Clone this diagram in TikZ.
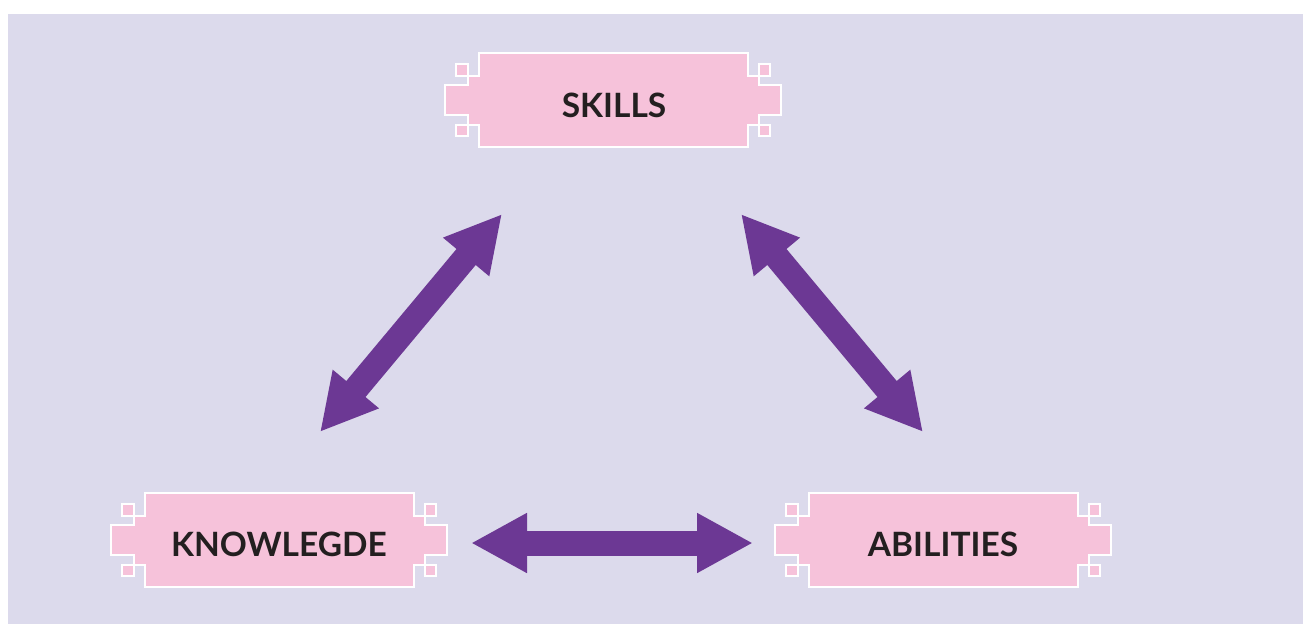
\documentclass[tikz,border=0pt]{standalone}
\usepackage{fontspec}
\setmainfont{Lato}
\usetikzlibrary{arrows.meta}
\definecolor{bgc}{RGB}{220,218,236}
\definecolor{pinkc}{RGB}{246,194,218}
\definecolor{purplec}{RGB}{108,56,148}
\definecolor{textc}{RGB}{35,31,32}
\tikzset{
  boxline/.style={draw=white, line width=2pt, fill=pinkc, line join=miter},
  label/.style={text=textc, font=\bfseries\fontsize{33.5}{38}\selectfont, minimum width=336pt, minimum height=95pt, inner sep=0pt},
  bigarrow/.style={draw=purplec, line width=25pt, {Triangle[length=56pt,width=56pt]}-{Triangle[length=56pt,width=56pt]}}
}
\newcommand\tagshape[1]{%
  \begin{scope}[shift={#1}]
    \path[boxline] (-134.5,-47) -- (134.5,-47) -- (134.5,-24.5) -- (145.5,-24.5) -- (145.5,-15) -- (168,-15) -- (168,15) -- (145.5,15) -- (145.5,24.5) -- (134.5,24.5) -- (134.5,47) -- (-134.5,47) -- (-134.5,24.5) -- (-145.5,24.5) -- (-145.5,15) -- (-168,15) -- (-168,-15) -- (-145.5,-15) -- (-145.5,-24.5) -- (-134.5,-24.5) -- cycle;
    \path[boxline] (-157,-36) rectangle (-145.5,-24.5);
    \path[boxline] (-157,36) rectangle (-145.5,24.5);
    \path[boxline] (157,-36) rectangle (145.5,-24.5);
    \path[boxline] (157,36) rectangle (145.5,24.5);
  \end{scope}}
\begin{document}
\begin{tikzpicture}[x=1pt,y=-1pt]
\useasboundingbox (0,0) rectangle (1303,624);
\fill[bgc] (8,14) rectangle (1303,624);
\tagshape{(613,100)}
\tagshape{(279,540)}
\tagshape{(943,540)}
\node[label] (skills) at (614,105) {SKILLS};
\node[label] (know) at (279,544.5) {KNOWLEGDE};
\node[label] (abil) at (943,544.5) {ABILITIES};
\coordinate (kR) at (471,543);
\coordinate (aL) at (753,543);
\coordinate (kT) at (320,432);
\coordinate (sL) at (502,214);
\coordinate (sR) at (741,214);
\coordinate (aT) at (923,432);
\draw[bigarrow] (kR) -- (aL);
\draw[bigarrow] (kT) -- (sL);
\draw[bigarrow] (sR) -- (aT);
\end{tikzpicture}
\end{document}
